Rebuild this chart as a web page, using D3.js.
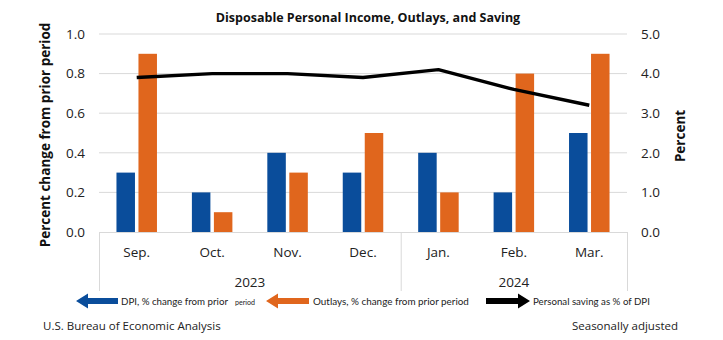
<!DOCTYPE html>
<html>
<head>
<meta charset="utf-8">
<script src="https://cdn.jsdelivr.net/npm/d3@7"></script>
<style>
  html, body { margin: 0; padding: 0; background: #fff; }
  svg { display: block; font-family: "Open Sans", "Noto Sans", sans-serif; }
</style>
</head>
<body>
<svg id="chart" width="723" height="340"></svg>
<script>
// Monthly data, Sep. 2023 – Mar. 2024
const months = ["Sep.", "Oct.", "Nov.", "Dec.", "Jan.", "Feb.", "Mar."];
const years = [
  { label: "2023", from: 0, to: 4 },
  { label: "2024", from: 4, to: 7 }
];
const dpiChange = [0.3, 0.2, 0.4, 0.3, 0.4, 0.2, 0.5];
const outlaysChange = [0.9, 0.1, 0.3, 0.5, 0.2, 0.8, 0.9];
const savingRate = [3.9, 4.0, 4.0, 3.9, 4.1, 3.6, 3.2];
const leftTicks = [0, 0.2, 0.4, 0.6, 0.8, 1.0];
const rightTicks = [0, 1, 2, 3, 4, 5];

const blue = "#0a4d9b";
const orange = "#e0661d";

const svg = d3.select("#chart");
const plot = { left: 99, right: 627, top: 34, bottom: 232 };

const x = d3.scaleBand().domain(d3.range(months.length))
  .range([plot.left, plot.right]).paddingInner(0).paddingOuter(0);
const yL = d3.scaleLinear().domain([0, 1]).range([plot.bottom, plot.top]);
const yR = d3.scaleLinear().domain([0, 5]).range([plot.bottom, plot.top]);

// gridlines
svg.append("g").selectAll("line").data(leftTicks.slice(1)).join("line")
  .attr("x1", plot.left).attr("x2", plot.right)
  .attr("y1", d => yL(d)).attr("y2", d => yL(d))
  .attr("stroke", "#d9d9d9").attr("stroke-width", 1);

// bars
const barW = 18.5, gap = 3.5;
const g = svg.append("g");
g.selectAll("rect.dpi").data(dpiChange).join("rect")
  .attr("class", "dpi")
  .attr("x", (d, i) => x(i) + x.bandwidth() / 2 - gap / 2 - barW)
  .attr("width", barW)
  .attr("y", d => yL(d)).attr("height", d => yL(0) - yL(d))
  .attr("fill", blue);
g.selectAll("rect.out").data(outlaysChange).join("rect")
  .attr("class", "out")
  .attr("x", (d, i) => x(i) + x.bandwidth() / 2 + gap / 2)
  .attr("width", barW)
  .attr("y", d => yL(d)).attr("height", d => yL(0) - yL(d))
  .attr("fill", orange);

// saving rate line
const line = d3.line().x((d, i) => x(i) + x.bandwidth() / 2).y(d => yR(d));
svg.append("path").datum(savingRate)
  .attr("d", line).attr("fill", "none")
  .attr("stroke", "#000").attr("stroke-width", 3.4)
  .attr("stroke-linejoin", "round");

// category axis base and group separators
svg.append("line").attr("x1", plot.left).attr("x2", plot.right)
  .attr("y1", plot.bottom + 0.5).attr("y2", plot.bottom + 0.5)
  .attr("stroke", "#d9d9d9");
const sepX = [0, 4, 7].map(i => i < months.length ? x(i) : plot.right);
svg.append("g").selectAll("line").data(sepX).join("line")
  .attr("x1", d => d + 0.5).attr("x2", d => d + 0.5)
  .attr("y1", plot.bottom).attr("y2", 291)
  .attr("stroke", "#d9d9d9");

// month labels
svg.append("g").selectAll("text").data(months).join("text")
  .attr("x", (d, i) => x(i) + x.bandwidth() / 2)
  .attr("y", 257).attr("text-anchor", "middle")
  .attr("font-size", 13.5).attr("fill", "#222").text(d => d);

// year labels
svg.append("g").selectAll("text").data(years).join("text")
  .attr("x", d => (x(d.from) + (d.to < months.length ? x(d.to) : plot.right)) / 2)
  .attr("y", 287).attr("text-anchor", "middle")
  .attr("font-size", 13.5).attr("fill", "#222").text(d => d.label);

// left axis
const leftAxis = d3.axisLeft(yL).tickValues(leftTicks).tickFormat(d3.format(".1f")).tickSize(0).tickPadding(14);
const la = svg.append("g").attr("transform", `translate(${plot.left},0)`).call(leftAxis);
la.select(".domain").remove();
la.selectAll("text").attr("font-size", 13.5).attr("fill", "#222")
  .attr("font-family", "'Open Sans', 'Noto Sans', sans-serif");

// right axis
const rightAxis = d3.axisRight(yR).tickValues(rightTicks).tickFormat(d3.format(".1f")).tickSize(0).tickPadding(14);
const ra = svg.append("g").attr("transform", `translate(${plot.right},0)`).call(rightAxis);
ra.select(".domain").remove();
ra.selectAll("text").attr("font-size", 13.5).attr("fill", "#222")
  .attr("font-family", "'Open Sans', 'Noto Sans', sans-serif");

// axis titles
svg.append("text").attr("transform", `translate(50,${(plot.top + plot.bottom) / 2 + 2}) rotate(-90)`)
  .attr("text-anchor", "middle").attr("font-size", 13.5).attr("font-weight", "bold")
  .attr("fill", "#111").text("Percent change from prior period");
svg.append("text").attr("transform", `translate(685,${(plot.top + plot.bottom) / 2 + 3}) rotate(-90)`)
  .attr("text-anchor", "middle").attr("font-size", 13.5).attr("font-weight", "bold")
  .attr("fill", "#111").text("Percent");

// title
svg.append("text").attr("x", 368).attr("y", 22).attr("text-anchor", "middle")
  .attr("font-size", 12.5).attr("font-weight", "bold").attr("fill", "#111")
  .text("Disposable Personal Income, Outlays, and Saving");

// legend arrows
function arrow(x0, x1, dir, color) {
  const cy = 301, sh = 3, hh = 7.5, head = 12;
  let pts;
  if (dir < 0) {
    pts = [[x0, cy], [x0 + head, cy - hh], [x0 + head, cy - sh], [x1, cy - sh],
           [x1, cy + sh], [x0 + head, cy + sh], [x0 + head, cy + hh]];
  } else {
    pts = [[x1, cy], [x1 - head, cy - hh], [x1 - head, cy - sh], [x0, cy - sh],
           [x0, cy + sh], [x1 - head, cy + sh], [x1 - head, cy + hh]];
  }
  svg.append("polygon").attr("points", pts.map(p => p.join(",")).join(" ")).attr("fill", color);
}
arrow(76, 118, -1, blue);
arrow(266, 309, -1, orange);
arrow(486, 530, 1, "#000");

// legend labels: font size chosen so each label fills its slot
const legendY = 305;
const legendFont = "Lato, 'Open Sans', sans-serif";
function legendText(xPos, str, size, width) {
  const t = svg.append("text").attr("x", xPos).attr("y", legendY)
    .attr("font-family", legendFont).attr("font-size", size).attr("fill", "#222").text(str);
  const w = t.node().getComputedTextLength();
  if (w > 0) t.attr("font-size", (size * width / w).toFixed(2));
  return t;
}
legendText(121, "DPI, % change from prior", 11, 107);
legendText(235, "period", 8.5, 20);
legendText(313, "Outlays, % change from prior period", 11, 156);
legendText(533, "Personal saving as % of DPI", 11, 117);

// footer
svg.append("text").attr("x", 43).attr("y", 330).attr("font-size", 11.5).attr("fill", "#222")
  .text("U.S. Bureau of Economic Analysis");
svg.append("text").attr("x", 678).attr("y", 330).attr("text-anchor", "end")
  .attr("font-size", 11.5).attr("fill", "#222").text("Seasonally adjusted");
</script>
</body>
</html>
